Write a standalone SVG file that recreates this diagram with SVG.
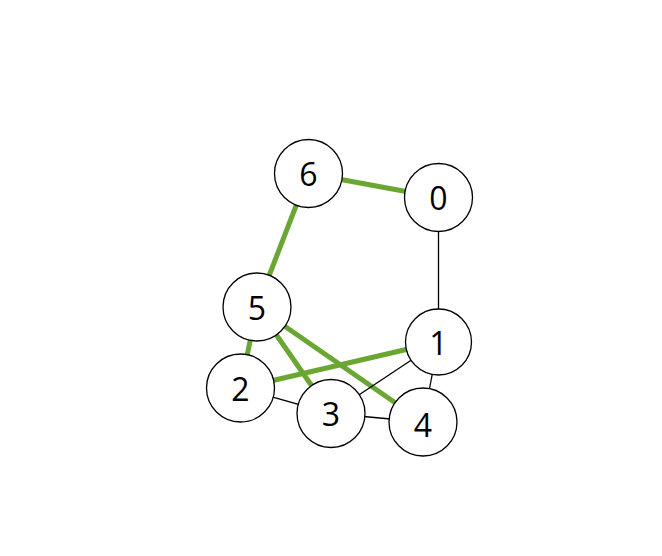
<svg xmlns="http://www.w3.org/2000/svg" width="662" height="556" viewBox="0 0 662 556">
<style>
.g{stroke:#6aa632;stroke-width:5;fill:none}
.k{stroke:#000;stroke-width:1.3;fill:none}
.n circle{fill:#fff;stroke:#000;stroke-width:1.3}
.n text{font-family:"Open Sans","Noto Sans",sans-serif;font-size:32px;text-anchor:middle;dominant-baseline:central;fill:#000}
</style>
<rect width="662" height="556" fill="#fff"/>
<g id="edges">
<line class="g" x1="308.5" y1="173.5" x2="438.5" y2="197.5"/>
<line class="g" x1="308.5" y1="173.5" x2="257" y2="307"/>
<line class="k" x1="438.5" y1="197.5" x2="438.5" y2="342"/>
<line class="g" x1="257" y1="307" x2="240.5" y2="388"/>
<line class="g" x1="257" y1="307" x2="331" y2="413.5"/>
<line class="g" x1="257" y1="307" x2="423" y2="422"/>
<line class="g" x1="240.5" y1="388" x2="438.5" y2="342"/>
<line class="k" x1="240.5" y1="388" x2="331" y2="413.5"/>
<line class="k" x1="331" y1="413.5" x2="438.5" y2="342"/>
<line class="k" x1="331" y1="413.5" x2="423" y2="422"/>
<line class="k" x1="438.5" y1="342" x2="423" y2="422"/>
</g>
<g id="node6" class="n"><circle cx="308.5" cy="173.5" r="34"/><text x="308.5" y="173.5">6</text></g>
<g id="node0" class="n"><circle cx="438.5" cy="197.5" r="34"/><text x="438.5" y="197.5">0</text></g>
<g id="node5" class="n"><circle cx="257" cy="307" r="34"/><text x="257" y="307">5</text></g>
<g id="node1" class="n"><circle cx="438.5" cy="342" r="33"/><text x="438.5" y="342">1</text></g>
<g id="node2" class="n"><circle cx="240.5" cy="388" r="34"/><text x="240.5" y="388">2</text></g>
<g id="node3" class="n"><circle cx="331" cy="413.5" r="34"/><text x="331" y="413.5">3</text></g>
<g id="node4" class="n"><circle cx="423" cy="422" r="34"/><text x="423" y="424">4</text></g>
</svg>
